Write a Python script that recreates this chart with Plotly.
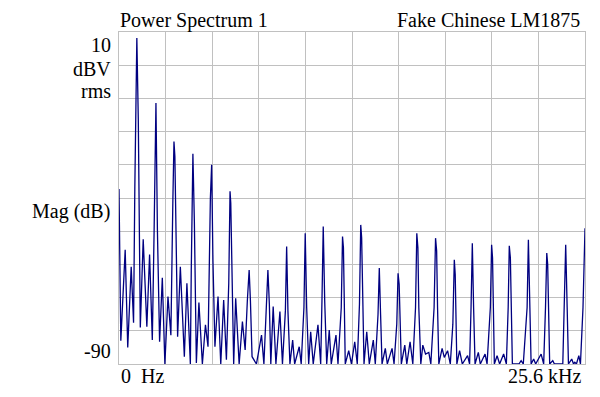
import plotly.graph_objects as go

# ---------------- data ----------------
freq_khz = [
    0.00, 0.10, 0.34, 0.48, 0.67, 0.80, 0.87, 0.98, 1.06, 1.17,
    1.33, 1.53, 1.68, 1.83, 1.93, 2.03, 2.11, 2.23, 2.38, 2.52,
    2.69, 2.85, 2.96, 3.02, 3.07, 3.11, 3.22, 3.37, 3.59, 3.73,
    3.92, 3.97, 4.06, 4.14, 4.25, 4.39, 4.58, 4.75, 4.89, 5.02,
    5.09, 5.16, 5.27, 5.44, 5.59, 5.75, 5.90, 6.03, 6.10, 6.14,
    6.21, 6.30, 6.41, 6.60, 6.78, 6.93, 7.05, 7.15, 7.22, 7.31,
    7.55, 7.83, 7.96, 8.09, 8.18, 8.26, 8.34, 8.47, 8.62, 8.84,
    8.98, 9.14, 9.21, 9.28, 9.39, 9.54, 9.65, 9.90, 10.01, 10.16,
    10.23, 10.31, 10.42, 10.53, 10.67, 10.93, 11.08, 11.15, 11.22, 11.30,
    11.41, 11.55, 11.66, 11.92, 12.03, 12.21, 12.28, 12.33, 12.38, 12.43,
    12.62, 12.77, 12.95, 13.09, 13.21, 13.28, 13.33, 13.39, 13.46, 13.61,
    13.75, 13.97, 14.08, 14.23, 14.30, 14.37, 14.45, 14.63, 14.74, 15.00,
    15.11, 15.26, 15.33, 15.39, 15.44, 15.51, 15.70, 15.81, 15.99, 16.14,
    16.29, 16.36, 16.42, 16.47, 16.58, 16.69, 16.84, 17.02, 17.13, 17.31,
    17.39, 17.45, 17.50, 17.57, 17.75, 17.87, 18.05, 18.20, 18.34, 18.42,
    18.47, 18.51, 18.56, 18.71, 18.86, 19.15, 19.26, 19.34, 19.41, 19.48,
    19.56, 19.74, 19.85, 20.11, 20.22, 20.40, 20.47, 20.52, 20.56, 20.62,
    20.77, 20.91, 21.13, 21.28, 21.38, 21.44, 21.50, 21.54, 21.61, 21.97,
    22.09, 22.21, 22.42, 22.49, 22.56, 22.64, 22.78, 22.89, 23.19, 23.33,
    23.43, 23.50, 23.55, 23.59, 23.66, 23.83, 23.92, 24.38, 24.47, 24.54,
    24.62, 24.69, 24.87, 24.97, 25.04, 25.13, 25.26, 25.35, 25.49, 25.60,
]
mag_dbv = [
    -37.3, -83.0, -55.6, -85.0, -60.7, -77.6, -36.5, 8.2, -16.4, -79.0,
    -52.4, -78.8, -57.0, -82.8, -49.6, -11.4, -49.6, -83.3, -64.0, -90.0,
    -69.7, -81.3, -40.5, -23.0, -27.5, -40.5, -81.8, -60.7, -87.8, -65.7,
    -90.0, -61.7, -26.7, -47.0, -89.7, -71.5, -90.0, -78.2, -84.8, -40.0,
    -30.0, -58.6, -84.8, -69.7, -90.0, -70.7, -88.7, -65.7, -38.0, -41.5,
    -65.7, -90.0, -70.2, -90.0, -77.2, -85.8, -71.0, -61.7, -71.0, -87.8,
    -90.0, -81.3, -90.0, -72.0, -61.7, -72.0, -90.0, -72.7, -90.0, -74.2,
    -90.0, -74.0, -54.6, -74.0, -90.0, -82.8, -90.0, -84.8, -90.0, -73.0,
    -50.6, -73.0, -90.0, -80.3, -90.0, -78.2, -90.0, -71.0, -48.6, -71.0,
    -90.0, -79.8, -90.0, -81.3, -90.0, -73.0, -51.6, -55.0, -73.0, -90.0,
    -86.0, -90.0, -83.3, -90.0, -72.0, -48.1, -52.0, -72.0, -90.0, -80.3,
    -90.0, -82.8, -90.0, -75.0, -61.1, -75.0, -90.0, -85.3, -90.0, -85.3,
    -90.0, -78.0, -62.7, -66.0, -78.0, -90.0, -84.3, -90.0, -83.3, -90.0,
    -73.0, -50.6, -55.0, -73.0, -90.0, -84.3, -87.0, -86.5, -90.0, -73.0,
    -52.1, -56.0, -73.0, -90.0, -85.3, -88.0, -86.0, -90.0, -78.0, -58.6,
    -63.0, -78.0, -90.0, -86.0, -90.0, -87.5, -90.0, -73.0, -53.6, -73.0,
    -90.0, -86.5, -90.0, -87.0, -90.0, -73.0, -54.1, -58.0, -73.0, -90.0,
    -87.5, -90.0, -87.0, -90.0, -73.0, -54.4, -58.0, -73.0, -90.0, -90.0,
    -89.0, -90.0, -73.0, -52.6, -73.0, -90.0, -88.5, -90.0, -87.0, -90.0,
    -73.0, -56.6, -60.0, -73.0, -90.0, -89.0, -90.0, -90.0, -73.0, -54.1,
    -73.0, -90.0, -88.5, -90.0, -89.5, -90.0, -87.5, -90.0, -73.0, -49.1,
]

x_range = [0, 25.6]
y_range = [-90, 10]
x_div = 2.56
y_div = 10

title_left = "Power Spectrum 1"
title_right = "Fake Chinese LM1875"
y_top_label = "10"
y_unit_1 = "dBV"
y_unit_2 = "rms"
y_mid_label = "Mag (dB)"
y_bottom_label = "-90"
x_left_label = "0\u00a0\u00a0Hz"
x_right_label = "25.6 kHz"

# ---------------- layout geometry ----------------
W, H = 600, 397
ML, MR, MT, MB = 119, 15, 32, 33
PW, PH = W - ML - MR, H - MT - MB


def px(xp):
    return (xp - ML) / PW


def py(yp):
    return (H - MB - yp) / PH


FONT = "Liberation Serif, Times New Roman, serif"
FS = 20
GRID = "#c0c0c0"

fig = go.Figure()
fig.add_trace(go.Scatter(
    x=freq_khz, y=mag_dbv, mode="lines",
    line=dict(color="#000080", width=1.3),
    hoverinfo="skip", showlegend=False,
))

axis_common = dict(
    showticklabels=False, ticks="", showgrid=True, gridcolor=GRID, gridwidth=1,
    zeroline=False, showline=True, linecolor=GRID, linewidth=1, mirror=True,
    fixedrange=True, layer="below traces",
)
fig.update_xaxes(range=x_range, tick0=0, dtick=x_div, **axis_common)
fig.update_yaxes(range=y_range, tick0=-90, dtick=y_div, **axis_common)


def ann(text, xp, yp, xanchor):
    fig.add_annotation(
        text=text, x=px(xp), y=py(yp), xref="paper", yref="paper",
        xanchor=xanchor, yanchor="middle", showarrow=False,
        font=dict(family=FONT, size=FS, color="black"),
    )


ann(title_left, 118, 20, "left")
ann(title_right, 582, 20, "right")
ann(y_top_label, 113, 45, "right")
ann(y_unit_1, 113, 69, "right")
ann(y_unit_2, 113, 91, "right")
ann(y_mid_label, 112, 211, "right")
ann(y_bottom_label, 113, 351, "right")
ann(x_left_label, 119, 376, "left")
ann(x_right_label, 583, 376, "right")

fig.update_layout(
    width=W, height=H,
    margin=dict(l=ML, r=MR, t=MT, b=MB, pad=0),
    paper_bgcolor="white", plot_bgcolor="white",
    showlegend=False,
)

fig.write_html(
    "out.html",
    config={"displayModeBar": False},
    post_script="document.body.style.margin='0';document.body.style.overflow='hidden';",
)
